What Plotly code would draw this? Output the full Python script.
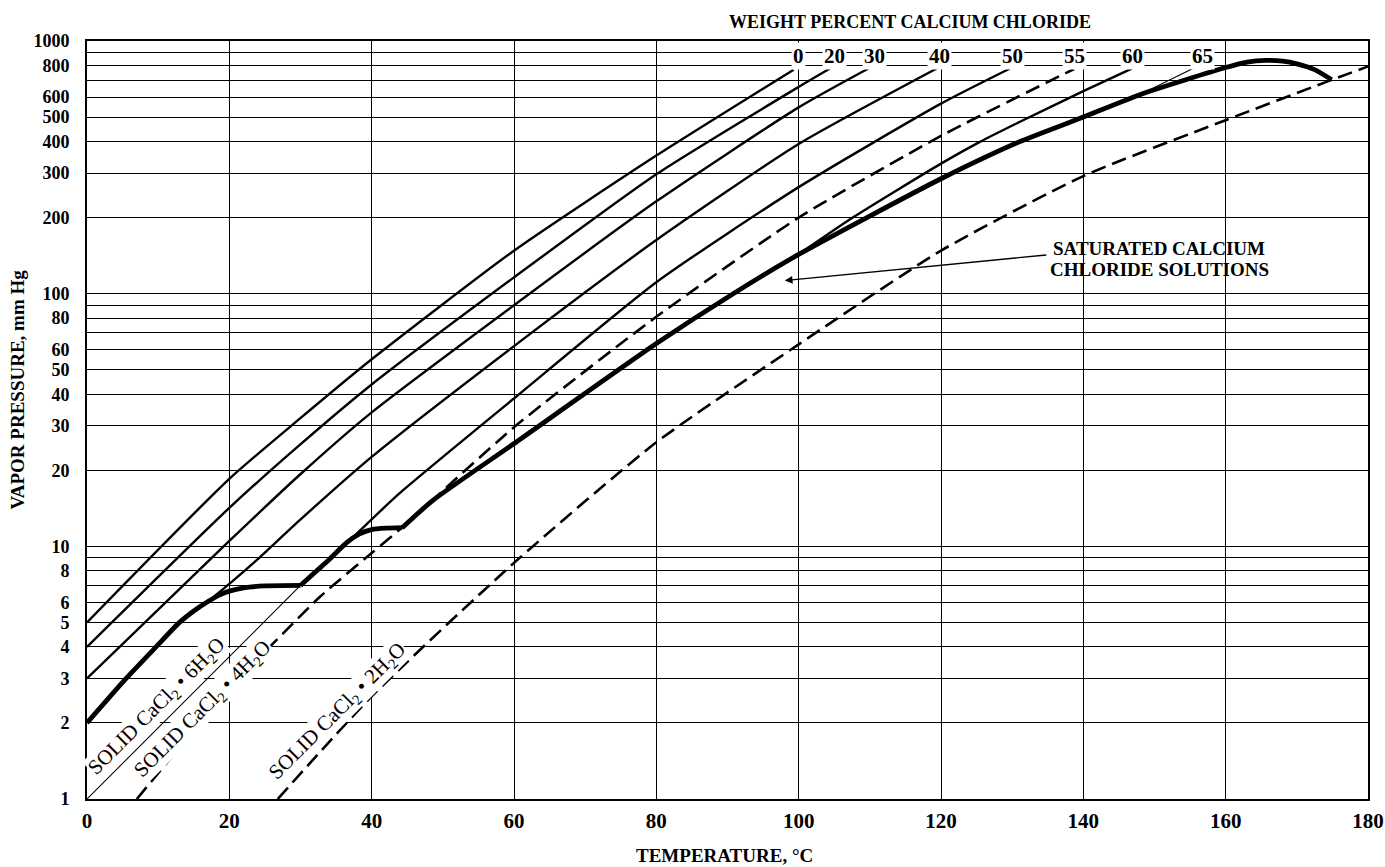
import numpy as np
import plotly.graph_objects as go

# ---------------- data ----------------
T_0 = [0, 20, 29.9, 40, 60, 80, 99.3]
P_0 = [5.0, 18.5, 32, 55, 148, 352, 770]

T_20 = [0, 20, 29.9, 40, 60, 80, 100, 104.4]
P_20 = [4.0, 14.2, 25.2, 43.7, 116, 297, 658, 778]

T_30 = [0, 20, 29.9, 40, 60, 80, 100, 109.8]
P_30 = [3.0, 10.5, 19.2, 33.9, 90, 232, 546, 778]

T_40 = [17, 20, 23.8, 29.9, 40, 60, 80, 100, 119.4]
P_40 = [6.05, 7.1, 8.8, 12.7, 22.6, 62, 163, 391, 778]

T_50 = [37, 43.9, 60, 80, 100, 120, 129.7]
P_50 = [10.6, 16.2, 38.5, 111, 264, 565, 778]

T_55 = [7, 20, 32.7, 40, 44.3, 60, 80, 100, 120, 138.7]
P_55 = [1.0, 2.72, 6.3, 9.4, 11.9, 29.6, 81, 200, 421, 775]

T_60 = [100, 107.6, 120, 125.4, 131.1, 140, 146.8]
P_60 = [143, 200, 327, 398, 479, 633, 778]

T_65 = [148.4, 155.4]
P_65 = [622, 778]

# saturated solutions, in three pieces (sharp corners at 30 and 44.3 degC)
T_sat_a = [0, 5.5, 9.7, 13.0, 15.0, 17.0, 18.5, 20, 22, 25, 30]
P_sat_a = [2.0, 3.0, 4.0, 5.0, 5.55, 6.05, 6.4, 6.65, 6.85, 6.97, 7.0]
T_sat_b = [30, 34.1, 36.4, 38.3, 40, 42, 44.3]
P_sat_b = [7.0, 8.9, 10.3, 11.2, 11.65, 11.8, 11.85]
T_sat_c = [44.3, 48.6, 59.9, 80, 90.8, 100, 120, 131.1, 140, 148.4, 160,
           163, 165.7, 168, 170, 172.5, 174.9]
P_sat_c = [11.85, 15.2, 25.4, 63.5, 100, 143, 285, 400, 500, 620, 785,
           825, 838, 832, 812, 770, 702]

T_6h = [0, 30]
P_6h = [1.0, 7.0]

T_2h = [26.8, 40, 60, 80, 100, 120, 140, 160, 174.9, 180]
P_2h = [1.0, 2.55, 8.6, 25.8, 63, 148, 292, 486, 702, 793]

pct_labels = ["0", "20", "30", "40", "50", "55", "60", "65"]

x_ticks = list(range(0, 181, 20))
y_grid = [1, 2, 3, 4, 5, 6, 7, 8, 9, 10, 20, 30, 40, 50, 60, 70, 80, 90,
          100, 200, 300, 400, 500, 600, 700, 800, 900, 1000]
y_unlabelled = [7, 9, 70, 90, 700, 900]

# ---------------- layout constants ----------------
pct_label_T = [99.97, 105.1, 110.6, 119.8, 130.1, 138.7, 146.9, 156.7]
pct_label_P = 874

SERIF = "Liberation Serif"
BLACK = "#000000"
DASH = "15px,7px"

fig = go.Figure()

def add(T, P, width=2.4, dash=None, spline=True):
    line = dict(color=BLACK, width=width, dash=dash)
    if spline and len(T) > 2:
        line.update(shape="spline", smoothing=0.6)
    fig.add_trace(go.Scatter(x=T, y=P, mode="lines", line=line,
                             hoverinfo="skip", showlegend=False))

add(T_0, P_0)
add(T_20, P_20)
add(T_30, P_30)
add(T_40, P_40)
add(T_50, P_50)
add(T_55, P_55, width=2.6, dash=DASH)
add(T_60, P_60)
add(T_65, P_65, width=1.1)
add(T_6h, P_6h, width=1.1)
add(T_2h, P_2h, width=2.6, dash=DASH)
add(T_sat_a, P_sat_a, width=4.8)
add(T_sat_b, P_sat_b, width=4.8)
add(T_sat_c, P_sat_c, width=4.8)

annotations = []
for lab, t in zip(pct_labels, pct_label_T):
    annotations.append(dict(x=t, y=np.log10(pct_label_P), xref="x", yref="y", text=lab,
                            showarrow=False, bgcolor="white", borderpad=1,
                            font=dict(family=SERIF, size=21, color=BLACK, weight="bold")))

solid_font = dict(family=SERIF, size=21, color=BLACK)
for txt, t, p in [("SOLID CaCl<sub>2</sub> • 6H<sub>2</sub>O", 9.9, 2.33),
                  ("SOLID CaCl<sub>2</sub> • 4H<sub>2</sub>O", 16.3, 2.27),
                  ("SOLID CaCl<sub>2</sub> • 2H<sub>2</sub>O", 35.3, 2.22)]:
    annotations.append(dict(x=t, y=np.log10(p), xref="x", yref="y", text=txt,
                            showarrow=False, textangle=-45, bgcolor="white", borderpad=0,
                            font=solid_font))

bold = dict(family=SERIF, size=19, color=BLACK, weight="bold")
annotations.append(dict(x=150.7, y=np.log10(150.3), xref="x", yref="y",
                        text="SATURATED CALCIUM", showarrow=False, font=bold))
annotations.append(dict(x=150.7, y=np.log10(124.8), xref="x", yref="y",
                        text="CHLORIDE SOLUTIONS", showarrow=False, font=bold))
annotations.append(dict(x=98.05, y=np.log10(112.7), xref="x", yref="y",
                        ax=135.0, ay=np.log10(142.5), axref="x", ayref="y",
                        text="", showarrow=True, arrowhead=2, arrowsize=1.1,
                        arrowwidth=1.4, arrowcolor=BLACK, standoff=0))

annotations.append(dict(x=115.6, y=1.0255, xref="x", yref="paper",
                        text="WEIGHT PERCENT CALCIUM CHLORIDE", showarrow=False,
                        yanchor="middle", font=dict(family=SERIF, size=18, color=BLACK, weight="bold")))
annotations.append(dict(x=89.6, y=-0.074, xref="x", yref="paper",
                        text="TEMPERATURE, °C", showarrow=False, yanchor="middle",
                        font=dict(family=SERIF, size=19, color=BLACK, weight="bold")))
annotations.append(dict(x=-0.054, y=0.54, xref="paper", yref="paper",
                        text="VAPOR PRESSURE, mm Hg", showarrow=False, textangle=-90,
                        xanchor="center", yanchor="middle",
                        font=dict(family=SERIF, size=19, color=BLACK, weight="bold")))

ytext = ["" if v in y_unlabelled else str(v) for v in y_grid]

fig.update_layout(
    width=1385, height=867,
    margin=dict(l=87, r=17, t=41, b=68),
    paper_bgcolor="white", plot_bgcolor="white",
    showlegend=False,
    annotations=annotations,
    xaxis=dict(range=[0, 180], tickvals=x_ticks, ticktext=[str(v) for v in x_ticks],
               showgrid=True, gridcolor=BLACK, gridwidth=1.4, automargin=False,
               showline=True, linecolor=BLACK, linewidth=2, mirror=True,
               ticks="", ticklabelstandoff=2, zeroline=False,
               tickfont=dict(family=SERIF, size=21, color=BLACK, weight="bold")),
    yaxis=dict(type="log", range=[0, 3], tickvals=y_grid, ticktext=ytext,
               showgrid=True, gridcolor=BLACK, gridwidth=1.4, automargin=False,
               showline=True, linecolor=BLACK, linewidth=2, mirror=True,
               ticks="", ticklabelstandoff=12, zeroline=False,
               tickfont=dict(family=SERIF, size=18, color=BLACK, weight="bold")),
)

fig.write_html("out.html")
